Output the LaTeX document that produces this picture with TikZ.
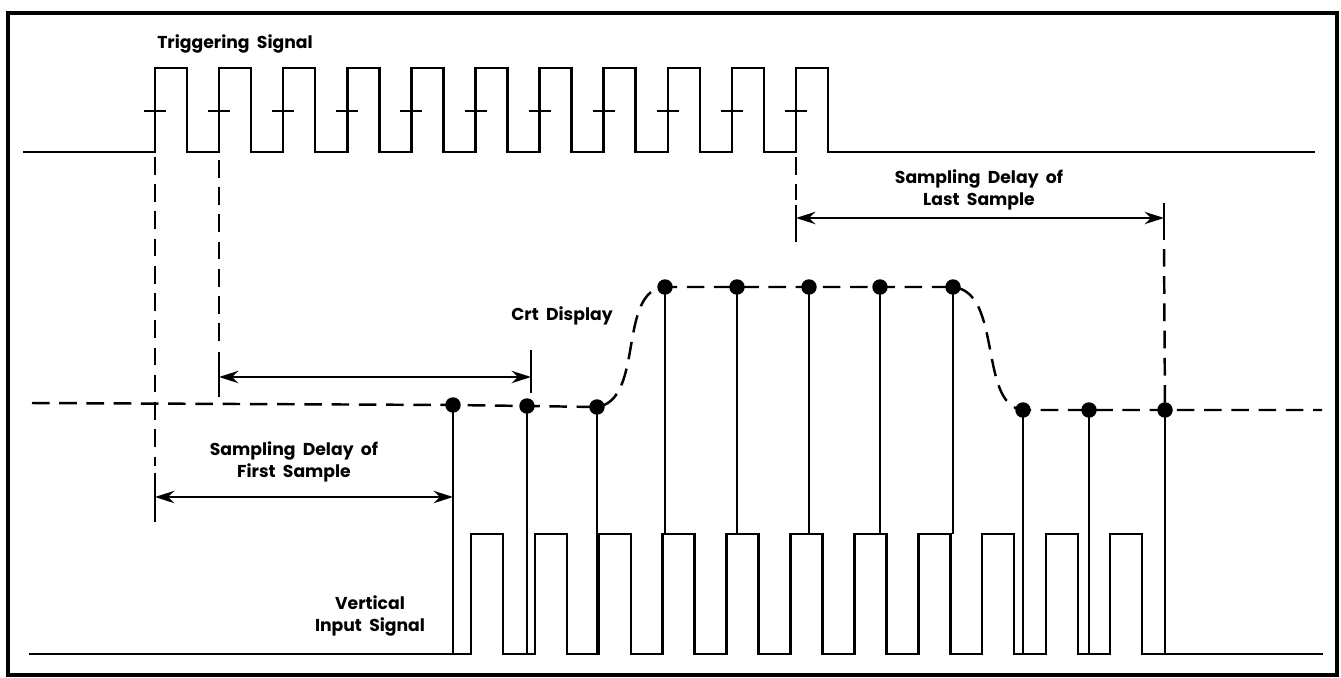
\documentclass[tikz,border=0pt]{standalone}
\usepackage{fontspec}
\setmainfont{Poppins}
\usetikzlibrary{arrows.meta}

\tikzset{
  wave/.style={line width=1.4pt, line join=miter},
  stemline/.style={line width=0.9pt},
  guide/.style={line width=1.4pt, dash pattern=on 10pt off 5.5pt},
  dimline/.style={line width=1.4pt, <->},
  sample/.style={circle, fill=black, inner sep=0pt, minimum size=8.8pt},
  lbl/.style={font=\bfseries\fontsize{9.8}{12.5}\selectfont, align=center, inner sep=0pt},
}

\begin{document}
\begin{tikzpicture}[>={Stealth[length=11pt,width=7pt]}, x=0.02cm, y=-0.02cm]
        \useasboundingbox (0,0) rectangle (1341,677);
        % Frame
        \draw[line width=2pt] (8,13) rectangle (1337,675);

        % Triggering signal
        \draw[wave] (23,152) foreach \i in {0,...,10} {
            -- ({155+64.1*\i},152) -- ({155+64.1*\i},68) -- ({187+64.1*\i},68) -- ({187+64.1*\i},152)
        } -- (1315,152);
        \foreach \i in {0,...,10}
            \draw[wave] ({144+64.1*\i},111) -- ({166+64.1*\i},111);
        \node[lbl] (trig) at (235,44) {Triggering\ \ Signal};

        % Vertical input signal
        \draw[wave] (29,654) foreach \i in {0,...,10} {
            -- ({471+63.9*\i},654) -- ({471+63.9*\i},534) -- ({503+63.9*\i},534) -- ({503+63.9*\i},654)
        } -- (1323,654);
        \node[lbl] (vin) at (370,616) {Vertical\\Input\ \ Signal};

        % Samples
        \foreach \n/\x/\y in {1/453/405, 2/527/406, 3/597/407, 4/665/287, 5/737/287, 6/809/287,
                              7/880/287, 8/953/287, 9/1023/410, 10/1089/410, 11/1165/410}
            \node[sample] (s\n) at (\x,\y) {};
        \foreach \n in {1,2,3,9,10,11}
            \draw[stemline] (s\n.center) -- (s\n.center |- 0,654);
        \foreach \n in {4,...,8}
            \draw[stemline] (s\n.center) -- (s\n.center |- 0,534);

        % Crt display
        \coordinate (dl) at (32,403);
        \coordinate (dr) at (1322,410);
        \draw[guide] (dl) -- (s1.center) -- (s2.center) -- (s3.center)
            .. controls (645,400) and (617,290) .. (s4.center)
            -- (s5.center) -- (s6.center) -- (s7.center) -- (s8.center)
            .. controls (1003,292) and (978,405) .. (s9.center)
            -- (s10.center) -- (s11.center) -- (dr);
        \node[lbl] (crt) at (562,316) {Crt\ \ Display};

        % Delay of first sample
        \coordinate (f0) at (155,522);
        \coordinate (f1) at (155,497);
        \coordinate (f2) at (453,497);
        \draw[guide] (155,157) -- (155,466);
        \draw[wave] (155,473) -- (f0);
        \draw[dimline] (f1) -- (f2);
        \node[lbl] (first) at (294,462) {Sampling\ \ Delay\ \ of\\First\ \ Sample};

        % Arrow to crt display
        \coordinate (c1) at (219,377);
        \coordinate (c2) at (531,377);
        \draw[guide] (219,160) -- (219,342);
        \draw[wave] (219,352) -- (219,397);
        \draw[wave] (531,350) -- (531,393);
        \draw[dimline] (c1) -- (c2);

        % Delay of last sample
        \coordinate (l1) at (796,218);
        \coordinate (l2) at (1164,218);
        \draw[guide] (796,157) -- (796,200);
        \draw[wave] (796,205) -- (796,242);
        \draw[wave] (1164,203) -- (1164,240);
        \draw[guide] (1164,249) -- (s11.center);
        \draw[dimline] (l1) -- (l2);
        \node[lbl] (last) at (979,190) {Sampling\ \ Delay\ \ of\\Last\ \ Sample};
    \end{tikzpicture}
\end{document}
